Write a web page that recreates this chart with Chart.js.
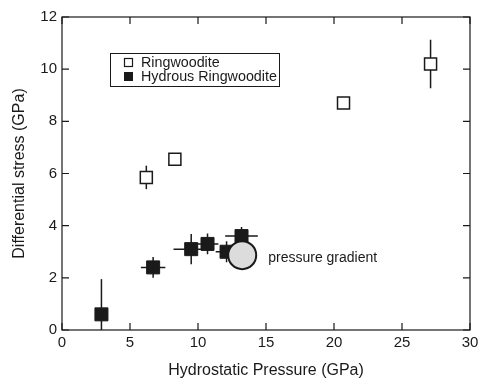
<!DOCTYPE html>
<html>
<head>
<meta charset="utf-8">
<script src="https://cdn.jsdelivr.net/npm/chart.js@4"></script>
<style>
  html, body { margin: 0; padding: 0; background: #fff; overflow: hidden; }
  #wrap { width: 480px; height: 382px; position: relative; }
</style>
</head>
<body>
<div id="wrap"><canvas id="stressChart"></canvas></div>
<script>
// Ringwoodite (open squares)
const ringPressure = [6.2, 8.3, 20.7, 27.1];
const ringStress = [5.85, 6.55, 8.7, 10.2];
const ringPressureErr = [0, 0, 0, 0.45];
const ringStressErr = [0.45, 0, 0, 0.93];

// Hydrous ringwoodite (filled squares)
const hydPressure = [2.9, 6.7, 9.5, 10.7, 12.1, 13.2];
const hydStress = [0.6, 2.4, 3.1, 3.3, 3.0, 3.6];
const hydPressureErr = [0, 0.9, 1.3, 0.8, 0.8, 1.2];
const hydStressErr = [1.35, 0.4, 0.58, 0.4, 0.4, 0.35];

// pressure gradient marker
const gradPoint = [{ x: 13.25, y: 2.87 }];
const gradLabel = 'pressure gradient';

const xTicks = [0, 5, 10, 15, 20, 25, 30];
const yTicks = [0, 2, 4, 6, 8, 10, 12];

const ink = '#1a1a1a';
const font = 'Liberation Sans, Arial, Helvetica, sans-serif';

const toPoints = (xs, ys, xe, ye) => xs.map((x, i) => ({ x: x, y: ys[i], xe: xe[i], ye: ye[i] }));

// error bars, drawn under the markers
const errorBars = {
    id: 'errorBars',
    beforeDatasetsDraw: (chart) => {
        const ctx = chart.ctx;
        const { x, y } = chart.scales;
        const area = chart.chartArea;
        ctx.save();
        ctx.beginPath();
        ctx.rect(area.left, area.top, area.right - area.left, area.bottom - area.top);
        ctx.clip();
        ctx.strokeStyle = ink;
        ctx.lineWidth = 1.5;
        chart.data.datasets.forEach((ds) => {
            if (!ds.errors) return;
            ds.data.forEach((p) => {
                const px = x.getPixelForValue(p.x);
                const py = y.getPixelForValue(p.y);
                ctx.beginPath();
                if (p.xe) {
                    ctx.moveTo(x.getPixelForValue(p.x - p.xe), py);
                    ctx.lineTo(x.getPixelForValue(p.x + p.xe), py);
                }
                if (p.ye) {
                    ctx.moveTo(px, y.getPixelForValue(p.y - p.ye));
                    ctx.lineTo(px, y.getPixelForValue(p.y + p.ye));
                }
                ctx.stroke();
            });
        });
        ctx.restore();
    }
};

// box frame, inward ticks, legend and annotation
const frame = {
    id: 'frame',
    afterDraw: (chart) => {
        const ctx = chart.ctx;
        const { x, y } = chart.scales;
        const { left, right, top, bottom } = chart.chartArea;
        ctx.save();
        ctx.strokeStyle = ink;
        ctx.lineWidth = 1.2;
        ctx.strokeRect(left, top, right - left, bottom - top);
        ctx.beginPath();
        xTicks.forEach((v) => {
            const px = x.getPixelForValue(v);
            ctx.moveTo(px, bottom); ctx.lineTo(px, bottom - 7);
            ctx.moveTo(px, top); ctx.lineTo(px, top + 7);
        });
        yTicks.forEach((v) => {
            const py = y.getPixelForValue(v);
            ctx.moveTo(left, py); ctx.lineTo(left + 7, py);
            ctx.moveTo(right, py); ctx.lineTo(right - 7, py);
        });
        ctx.stroke();

        // legend box
        ctx.lineWidth = 1;
        ctx.strokeRect(110.5, 53.5, 169, 33);
        ctx.lineWidth = 1.2;
        ctx.strokeRect(124.5, 58.5, 8, 8);
        ctx.fillStyle = ink;
        ctx.fillRect(124, 72, 9, 9);
        ctx.font = '14.3px ' + font;
        ctx.textBaseline = 'middle';
        ctx.textAlign = 'left';
        ctx.fillText(chart.data.datasets[2].label, 141, 63);
        ctx.fillText(chart.data.datasets[1].label, 141, 77);

        // pressure gradient label
        const g = chart.data.datasets[0].data[0];
        ctx.font = '14px ' + font;
        ctx.fillText(gradLabel, x.getPixelForValue(g.x) + 26, y.getPixelForValue(g.y) + 3);
        ctx.restore();
    }
};

const data = {
    datasets: [{
        label: gradLabel,
        data: gradPoint,
        pointStyle: 'circle',
        pointRadius: 14,
        backgroundColor: '#dcdcdc',
        borderColor: ink,
        borderWidth: 2
    }, {
        label: 'Hydrous Ringwoodite',
        data: toPoints(hydPressure, hydStress, hydPressureErr, hydStressErr),
        errors: true,
        pointStyle: 'rect',
        pointRadius: 9.2,
        backgroundColor: ink,
        borderColor: ink,
        borderWidth: 1
    }, {
        label: 'Ringwoodite',
        data: toPoints(ringPressure, ringStress, ringPressureErr, ringStressErr),
        errors: true,
        pointStyle: 'rect',
        pointRadius: 8.5,
        backgroundColor: '#ffffff',
        borderColor: ink,
        borderWidth: 1.5
    }]
};

const config = {
    type: 'scatter',
    data: data,
    plugins: [errorBars, frame],
    options: {
        responsive: true,
        maintainAspectRatio: false,
        animation: false,
        events: [],
        layout: {
            autoPadding: false,
            padding: { left: 0, right: 10, top: 17, bottom: 0 }
        },
        plugins: {
            legend: { display: false },
            tooltip: { enabled: false }
        },
        scales: {
            x: {
                type: 'linear',
                min: 0,
                max: 30,
                afterFit: (scale) => {
                    scale.height = 52;
                    scale.paddingRight = 10;
                },
                afterBuildTicks: (scale) => { scale.ticks = xTicks.map((v) => ({ value: v })); },
                grid: { display: false, drawTicks: false },
                border: { display: false },
                ticks: {
                    color: ink,
                    padding: 4,
                    font: { family: font, size: 15 }
                },
                title: {
                    display: true,
                    text: 'Hydrostatic Pressure (GPa)',
                    color: ink,
                    padding: { top: 0, bottom: 1.5 },
                    font: { family: font, size: 16 }
                }
            },
            y: {
                type: 'linear',
                min: 0,
                max: 12,
                afterFit: (scale) => { scale.width = 62; },
                afterBuildTicks: (scale) => { scale.ticks = yTicks.map((v) => ({ value: v })); },
                grid: { display: false, drawTicks: false },
                border: { display: false },
                ticks: {
                    color: ink,
                    padding: 5,
                    font: { family: font, size: 15 }
                },
                title: {
                    display: true,
                    text: 'Differential stress (GPa)',
                    color: ink,
                    padding: { top: 9.5, bottom: 0 },
                    font: { family: font, size: 16 }
                }
            }
        }
    }
};

new Chart(document.getElementById('stressChart'), config);
</script>
</body>
</html>
